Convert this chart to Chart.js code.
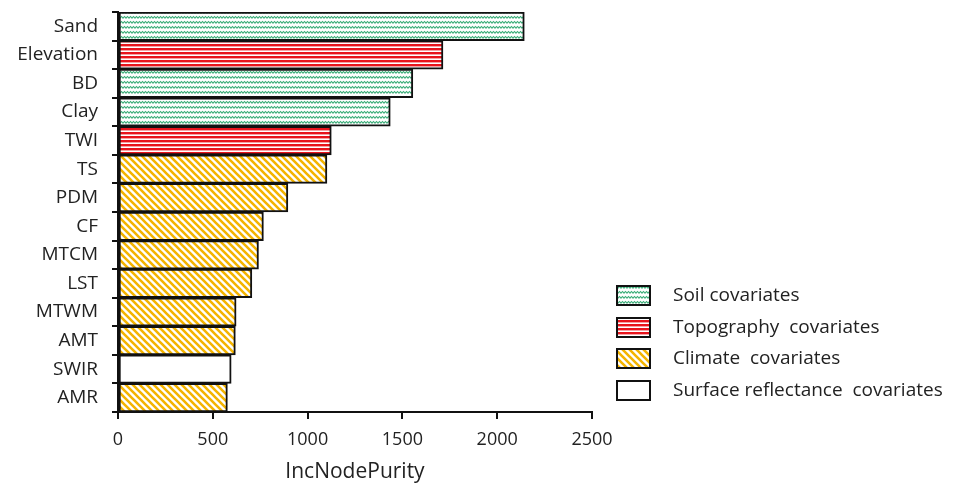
<!DOCTYPE html>
<html>
<head>
<meta charset="utf-8">
<script src="https://cdn.jsdelivr.net/npm/chart.js@4.4.0/dist/chart.umd.min.js"></script>
<style>
    html, body { margin: 0; padding: 0; background: #fff; }
    #wrap { width: 961px; height: 489px; position: relative; }
</style>
</head>
<body>
<div id="wrap"><canvas id="purityChart"></canvas></div>
<script>
const covariates = ['Sand', 'Elevation', 'BD', 'Clay', 'TWI', 'TS', 'PDM', 'CF', 'MTCM', 'LST', 'MTWM', 'AMT', 'SWIR', 'AMR']
const incNodePurity = [2143, 1714, 1555, 1436, 1125, 1102, 896, 767, 741, 706, 623, 619, 597, 577]
const covariateGroup = ['soil', 'topo', 'soil', 'soil', 'topo', 'climate', 'climate', 'climate', 'climate', 'climate', 'climate', 'climate', 'surface', 'climate']
const groupNames = ['soil', 'topo', 'climate', 'surface']
const groupLabels = ['Soil covariates', 'Topography  covariates', 'Climate  covariates', 'Surface reflectance  covariates']
const xTicks = [0, 500, 1000, 1500, 2000, 2500]

const FONT = "'Open Sans', 'Liberation Sans', sans-serif"

function makePattern(kind) {
    const c = document.createElement('canvas')
    const g = c.getContext('2d')
    if (kind === 'soil') {
        c.width = 6
        c.height = 5
        g.fillStyle = '#fff'
        g.fillRect(0, 0, 6, 5)
        g.strokeStyle = '#3aad78'
        g.lineWidth = 1.1
        g.beginPath()
        g.moveTo(-1.5, 1.5)
        g.lineTo(0, 3.2)
        g.lineTo(1.5, 1.5)
        g.lineTo(3, 3.2)
        g.lineTo(4.5, 1.5)
        g.lineTo(6, 3.2)
        g.lineTo(7.5, 1.5)
        g.stroke()
    } else if (kind === 'topo') {
        c.width = 4
        c.height = 4
        g.fillStyle = '#fff'
        g.fillRect(0, 0, 4, 4)
        g.fillStyle = '#e8141c'
        g.fillRect(0, 0, 4, 2.4)
    } else if (kind === 'climate') {
        c.width = 7
        c.height = 7
        g.fillStyle = '#fff'
        g.fillRect(0, 0, 7, 7)
        g.strokeStyle = '#f4b400'
        g.lineWidth = 2.6
        g.beginPath()
        for (let k = -7; k <= 7; k += 7) {
            g.moveTo(k - 1, -1)
            g.lineTo(k + 8, 8)
        }
        g.stroke()
    } else {
        return '#ffffff'
    }
    return g.createPattern(c, 'repeat')
}

const fills = {}
groupNames.forEach((name) => {
    fills[name] = makePattern(name)
})

const legendPlugin = {
    id: 'groupLegend',
    afterDraw(chart) {
        const ctx = chart.ctx
        const x0 = 617
        const ys = [286, 318, 349, 381]
        ctx.save()
        groupNames.forEach((name, i) => {
            ctx.fillStyle = fills[name]
            ctx.fillRect(x0, ys[i], 33, 19)
            ctx.lineWidth = 2
            ctx.strokeStyle = '#111'
            ctx.strokeRect(x0, ys[i], 33, 19)
            ctx.fillStyle = '#222'
            ctx.font = '19px ' + FONT
            ctx.textBaseline = 'middle'
            ctx.fillText(groupLabels[i], 673, ys[i] + 10)
        })
        ctx.restore()
    },
}

const ctx = document.getElementById('purityChart').getContext('2d')
new Chart(ctx, {
    type: 'bar',
    data: {
        labels: covariates,
        datasets: [
            {
                data: incNodePurity,
                backgroundColor: covariateGroup.map((g) => fills[g]),
                borderColor: '#111',
                borderWidth: 2,
                borderSkipped: false,
                categoryPercentage: 1,
                barPercentage: 1,
            },
        ],
    },
    options: {
        indexAxis: 'y',
        responsive: true,
        maintainAspectRatio: false,
        animation: false,
        layout: { padding: { top: 12, right: 369, left: 0, bottom: 0 } },
        plugins: {
            legend: { display: false },
            tooltip: { enabled: false },
        },
        scales: {
            x: {
                min: 0,
                max: 2500,
                afterFit: (scale) => {
                    scale.height = 77
                },
                afterBuildTicks: (scale) => {
                    scale.ticks = xTicks.map((v) => ({ value: v }))
                },
                border: { color: '#111', width: 2 },
                grid: { drawOnChartArea: false, color: '#111', tickLength: 7, lineWidth: 2 },
                ticks: {
                    color: '#222',
                    font: { family: FONT, size: 18 },
                    padding: 10,
                    maxRotation: 0,
                    callback: (value) => String(value),
                },
                title: {
                    display: true,
                    text: 'IncNodePurity',
                    color: '#222',
                    font: { family: FONT, size: 21 },
                    padding: { top: 0 },
                },
            },
            y: {
                afterFit: (scale) => {
                    scale.width = 118
                    scale.paddingTop = 0
                    scale.paddingBottom = 0
                },
                border: { color: '#111', width: 2 },
                grid: { drawOnChartArea: false, color: '#111', tickLength: 6, lineWidth: 2 },
                ticks: { color: '#222', font: { family: FONT, size: 19 }, padding: 14 },
            },
        },
    },
    plugins: [legendPlugin],
})
</script>
</body>
</html>
